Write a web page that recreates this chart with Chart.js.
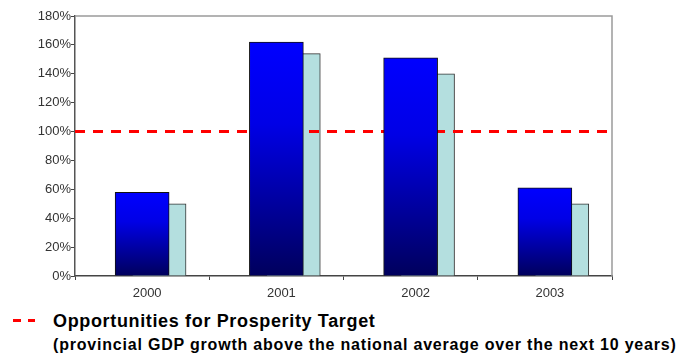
<!DOCTYPE html>
<html>
<head>
<meta charset="utf-8">
<script src="https://cdn.jsdelivr.net/npm/chart.js@4/dist/chart.umd.min.js"></script>
<style>
body{margin:0;background:#fff;width:684px;height:356px;overflow:hidden;position:relative;font-family:"Liberation Sans",Arial,sans-serif}
#wrap{position:absolute;left:0;top:0;width:684px;height:300px}
.dash{position:absolute;left:13px;top:319px;width:22px;height:3px;background:repeating-linear-gradient(to right,#f00 0 7.5px,transparent 7.5px 14.5px)}
.l1,.l2{position:absolute;left:53px;white-space:nowrap;font-family:"Liberation Sans",Arial,sans-serif;font-weight:bold;color:#000}
.l1{top:311px;font-size:18px;line-height:20px;letter-spacing:0.65px}
.l2{top:335.5px;font-size:16px;line-height:18px;letter-spacing:0.8px}
</style>
</head>
<body>
<div id="wrap"><canvas id="gdpChart"></canvas></div>
<div class="dash"></div>
<div class="l1">Opportunities for Prosperity Target</div>
<div class="l2">(provincial GDP growth above the national average over the next 10 years)</div>
<script>
// values, in %
const years = ['2000','2001','2002','2003'];
const provincialGrowth = [58, 162, 151, 61];
const nationalGrowth = [50, 154, 140, 50];
const target = 100;
const yMax = 180;
const yStep = 20;

// light bars sit a bit to the right, behind the blue ones
const shift = 0.126;

const tickFont = {family:'"Liberation Sans", Arial, sans-serif', size:13};

function blueFill(ctx){
  const chart = ctx.chart;
  if(!chart.chartArea || ctx.type !== 'data') return '#0000ff';
  const y = chart.scales.y;
  const top = y.getPixelForValue(ctx.raw);
  const bottom = y.getPixelForValue(0);
  const g = chart.ctx.createLinearGradient(0, top, 0, bottom);
  g.addColorStop(0, '#0000ff');
  g.addColorStop(0.35, '#0000e6');
  g.addColorStop(1, '#00005c');
  return g;
}

const frame = {
  id:'frame',
  beforeDatasetsDraw(chart){
    const a = chart.chartArea, c = chart.ctx;
    c.save();
    c.strokeStyle = '#9a9a9a';
    c.lineWidth = 1.5;
    c.beginPath();
    c.moveTo(a.left, a.top);
    c.lineTo(a.right, a.top);
    c.lineTo(a.right, a.bottom);
    c.stroke();
    c.restore();
  }
};

new Chart(document.getElementById('gdpChart'), {
  type:'bar',
  data:{
    labels: years,
    datasets:[
      {
        label:'Provincial',
        data: provincialGrowth,
        xAxisID:'x',
        order:0,
        grouped:false,
        backgroundColor: blueFill,
        borderColor:'#111',
        borderWidth:1,
        barThickness:54
      },
      {
        type:'line',
        label:'Target',
        data:[{x:0,y:target},{x:1,y:target}],
        xAxisID:'xt',
        order:1,
        borderColor:'#ff0000',
        borderWidth:3,
        borderDash:[10,8],
        pointRadius:0,
        fill:false
      },
      {
        label:'National',
        data: nationalGrowth.map((v,i)=>({x:i,y:v})),
        xAxisID:'xs',
        order:2,
        grouped:false,
        backgroundColor:'#b4dfdf',
        borderColor:'#333',
        borderWidth:1,
        barThickness:54
      }
    ]
  },
  options:{
    responsive:true,
    maintainAspectRatio:false,
    animation:false,
    devicePixelRatio:1,
    layout:{padding:{left:0,right:72,top:16,bottom:0}},
    plugins:{legend:{display:false},tooltip:{enabled:false}},
    scales:{
      x:{
        type:'category',
        offset:true,
        grid:{offset:true,drawOnChartArea:false,drawTicks:true,tickLength:4,color:'#444'},
        border:{display:true,color:'#444',width:1.5},
        ticks:{font:tickFont,color:'#333',padding:6,labelOffset:5,maxRotation:0},
        afterFit(s){ s.height = 24; }
      },
      xs:{
        type:'linear',
        display:false,
        offset:false,
        min:-0.5 - shift,
        max:3.5 - shift
      },
      xt:{
        type:'linear',
        display:false,
        offset:false,
        min:0,
        max:1
      },
      y:{
        min:0,
        max:yMax,
        grid:{drawOnChartArea:false,drawTicks:true,tickLength:4,color:'#444'},
        border:{display:true,color:'#555',width:1.5},
        ticks:{stepSize:yStep,font:tickFont,color:'#333',padding:0,callback:v=>v+'%'},
        afterFit(s){ s.width = 75; }
      }
    }
  },
  plugins:[frame]
});
</script>
</body>
</html>
